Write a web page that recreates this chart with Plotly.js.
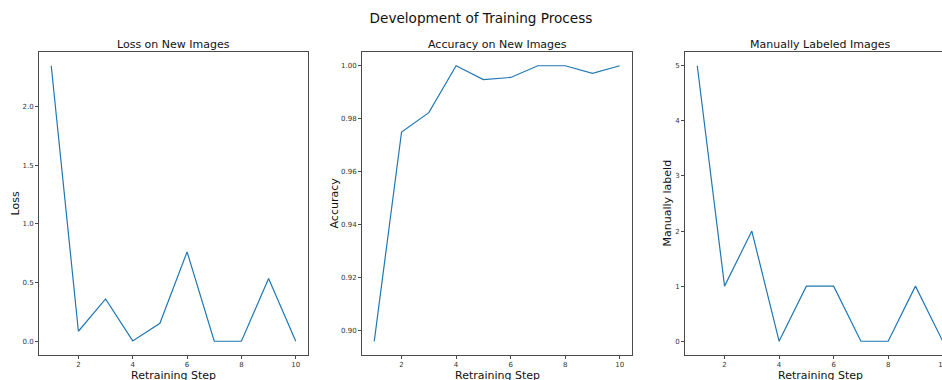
<!DOCTYPE html>
<html>
<head>
<meta charset="utf-8">
<script src="https://cdn.plot.ly/plotly-3.0.1.min.js"></script>
<style>
  html, body { margin: 0; padding: 0; overflow: hidden; background: #fff; }
  #chart { width: 960px; height: 380px; }
</style>
</head>
<body>
<div id="chart"></div>
<script>
// Retraining steps and the metrics recorded after each step
const steps = [1, 2, 3, 4, 5, 6, 7, 8, 9, 10];
const lossValues = [2.346, 0.085, 0.36, 0.003, 0.153, 0.761, 0.0, 0.0, 0.535, 0.0];
const accuracyValues = [0.896, 0.975, 0.9823, 1.0, 0.9948, 0.9956, 1.0, 1.0, 0.9971, 1.0];
const manualLabels = [5, 1, 2, 0, 1, 1, 0, 0, 1, 0];

const panelTitles = ['Loss on New Images', 'Accuracy on New Images', 'Manually Labeled Images'];
const yTitles = ['Loss', 'Accuracy', 'Manually labeld'];
const xTitle = 'Retraining Step';
const mainTitle = 'Development of Training Process';

const W = 960, H = 380;
const FONT = 'DejaVu Sans, sans-serif';
const lineColor = '#1f77b4';
const frameColor = '#4a4a4a';

// pixel extents of each panel
const panels = [
  { left: 39, right: 308 },
  { left: 362, right: 632 },
  { left: 685, right: 955 }
];
const panelTop = 52, panelBottom = 355;
const yDomain = [(H - panelBottom) / H, (H - panelTop) / H];

function pad(vals) {
  const lo = Math.min(...vals), hi = Math.max(...vals);
  const m = (hi - lo) * 0.05;
  return [lo - m, hi + m];
}

const series = [lossValues, accuracyValues, manualLabels];
const yFormats = ['.1f', '.2f', 'd'];
const yDticks = [0.5, 0.02, 1];

const data = series.map((vals, i) => ({
  x: steps,
  y: vals,
  type: 'scatter',
  mode: 'lines',
  line: { color: lineColor, width: 1.2 },
  xaxis: i === 0 ? 'x' : 'x' + (i + 1),
  yaxis: i === 0 ? 'y' : 'y' + (i + 1),
  hoverinfo: 'x+y'
}));

const layout = {
  width: W,
  height: H,
  margin: { l: 0, r: 0, t: 0, b: 0 },
  paper_bgcolor: '#fff',
  plot_bgcolor: '#fff',
  showlegend: false,
  font: { family: FONT, color: '#222' },
  annotations: []
};

const commonAxis = {
  showline: true,
  mirror: true,
  linecolor: frameColor,
  linewidth: 1,
  ticks: 'outside',
  ticklen: 3,
  tickwidth: 1,
  tickcolor: frameColor,
  showgrid: false,
  zeroline: false,
  tickfont: { family: FONT, size: 7, color: '#333' },
  fixedrange: true
};

const labelFont = { family: FONT, size: 11, color: '#111' };

panels.forEach((p, i) => {
  const sfx = i === 0 ? '' : String(i + 1);
  layout['xaxis' + sfx] = Object.assign({}, commonAxis, {
    domain: [p.left / W, p.right / W],
    anchor: 'y' + sfx,
    range: [0.55, 10.45],
    tick0: 0,
    dtick: 2
  });
  layout['yaxis' + sfx] = Object.assign({}, commonAxis, {
    domain: yDomain,
    anchor: 'x' + sfx,
    range: pad(series[i]),
    dtick: yDticks[i],
    tickformat: yFormats[i]
  });
  const cx = (p.left + p.right) / 2 / W;
  // panel title
  layout.annotations.push({
    text: panelTitles[i], xref: 'paper', yref: 'paper',
    x: cx, y: (H - 44.5) / H, xanchor: 'center', yanchor: 'middle',
    showarrow: false, font: labelFont
  });
  // x axis title
  layout.annotations.push({
    text: xTitle, xref: 'paper', yref: 'paper',
    x: cx, y: (H - 375.5) / H, xanchor: 'center', yanchor: 'middle',
    showarrow: false, font: labelFont
  });
});

// y axis titles
const yTitleX = [15, 334, 667];
yTitles.forEach((t, i) => {
  layout.annotations.push({
    text: t, xref: 'paper', yref: 'paper',
    x: yTitleX[i] / W, y: (H - (panelTop + panelBottom) / 2) / H,
    xanchor: 'center', yanchor: 'middle', textangle: -90,
    showarrow: false, font: labelFont
  });
});

layout.title = {
  text: mainTitle,
  x: 481 / W, xref: 'paper', xanchor: 'center',
  y: (H - 18.5) / H, yref: 'paper', yanchor: 'middle',
  font: { family: FONT, size: 13.6, color: '#111' }
};

Plotly.newPlot('chart', data, layout, { displayModeBar: false, staticPlot: true });
</script>
</body>
</html>
